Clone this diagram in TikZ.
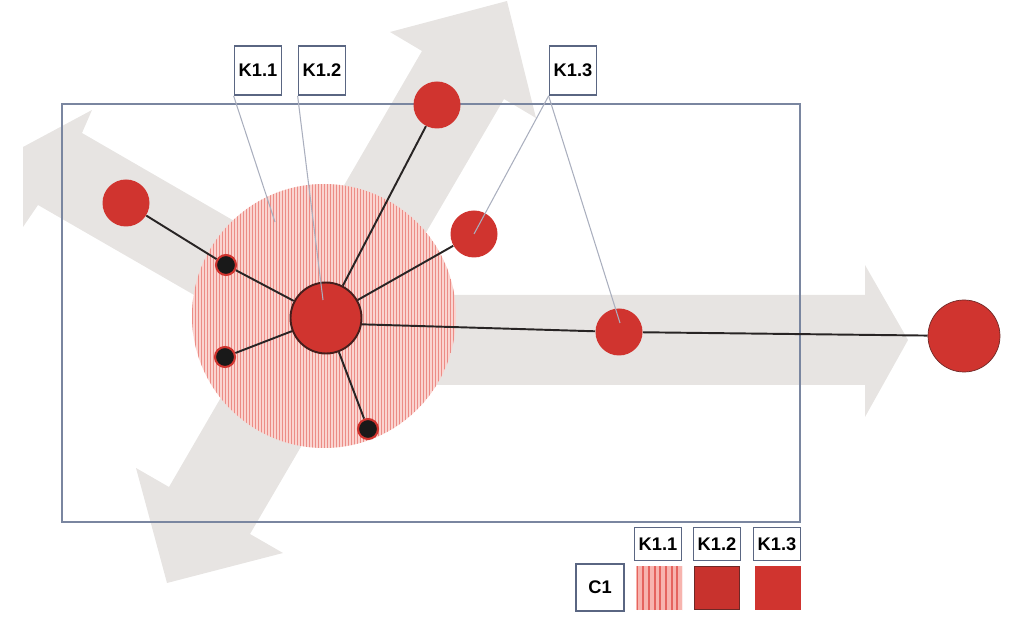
\documentclass[tikz,border=0pt]{standalone}
\usepackage{fontspec}
\setmainfont{Liberation Sans}
\usetikzlibrary{calc}
\definecolor{framecol}{RGB}{122,134,160}
\definecolor{tagline}{RGB}{90,102,130}
\definecolor{arrowgray}{RGB}{231,228,226}
\definecolor{nodered}{RGB}{208,52,47}
\definecolor{hubline}{RGB}{70,30,28}
\definecolor{linkcol}{RGB}{40,36,36}
\definecolor{leadcol}{RGB}{170,175,190}
\definecolor{zonepink}{RGB}{250,212,208}
\definecolor{zoneline}{RGB}{236,140,134}
\definecolor{swatchpink}{RGB}{247,180,174}
\definecolor{swatchline}{RGB}{229,100,94}
\definecolor{swatchdark}{RGB}{110,40,38}
\pgfdeclarelayer{back}
\pgfdeclarelayer{mid}
\pgfsetlayers{back,mid,main}

\begin{document}
\begin{tikzpicture}[x=0.2mm, y=-0.2mm,
  tag/.style={draw=tagline, line width=1pt, fill=white, font=\fontsize{10.4}{11}\selectfont\bfseries, inner sep=0, minimum width=9.4mm, minimum height=9.8mm},
  legtag/.style={tag, minimum width=9.4mm, minimum height=6.6mm},
  zone/.style={circle, fill=zonepink, inner sep=0, minimum size=52.8mm,
    path picture={\foreach \i in {0,...,88} \draw[zoneline, line width=0.5pt] ([xshift=\i*0.6mm]path picture bounding box.south west) -- ([xshift=\i*0.6mm]path picture bounding box.north west);}},
  rednode/.style={circle, fill=nodered, inner sep=0, minimum size=9.4mm},
  blackdot/.style={circle, fill=black!90, draw=nodered, line width=1.2pt, inner sep=0, minimum size=4.0mm},
  link/.style={draw=linkcol, line width=1.1pt},
  leader/.style={draw=leadcol, line width=0.6pt},
  flow/.style={fill=arrowgray}
]
\useasboundingbox (0,0) rectangle (1024,626);

\begin{pgfonlayer}{back}
\fill[flow] (92,110) -- (23,147) -- (23,227) -- (38,205) -- (300,356) -- (300,259) -- (82,133) -- cycle;
\fill[flow] (507,1) -- (536,118) -- (504,99) -- (250,534) -- (283,553) -- (167,583) -- (136,468) -- (169,487) -- (422,51) -- (390,32) -- cycle;
\fill[flow] (330,295) -- (865,295) -- (865,265) -- (908,340) -- (865,417) -- (865,385) -- (330,385) -- cycle;
\draw[framecol, line width=1.2pt] (62,104) rectangle (800,522);
\node[zone] (zone) at (324,316) {};
\end{pgfonlayer}

% nodes
\node[rednode, minimum size=14.2mm, draw=hubline, line width=1.1pt] (hub) at (326,318) {};
\node[rednode] (nleft) at (126,203) {};
\node[rednode] (ntop) at (437,105) {};
\node[rednode] (nmid) at (474,234) {};
\node[rednode] (nright) at (619,332) {};
\node[rednode, minimum size=14.4mm, draw=swatchdark, line width=0.4pt] (nfar) at (964,336) {};
\node[blackdot] (d1) at (226,265) {};
\node[blackdot] (d2) at (225,357) {};
\node[blackdot] (d3) at (368,429) {};

\begin{pgfonlayer}{mid}
\draw[link] (nleft) -- (d1) -- (hub);
\draw[link] (hub) -- (ntop);
\draw[link] (hub) -- (nmid);
\draw[link] (hub) -- (d2);
\draw[link] (hub) -- (d3);
\draw[link] (hub.-10) -- (nright) -- (nfar);
\end{pgfonlayer}

% labels
\node[tag] (k11) at (258,70.5) {K1.1};
\node[tag] (k12) at (322,70.5) {K1.2};
\node[tag] (k13) at (573,70.5) {K1.3};
\coordinate (k11end) at (275,222);
\coordinate (k12end) at (323,300);
\coordinate (k13end) at (620,323);
\draw[leader] (k11.south west) -- (k11end);
\draw[leader] (k12.south west) -- (k12end);
\draw[leader] (k13.south west) -- (nmid.center);
\draw[leader] (k13.south west) -- (k13end);

% legend
\node[legtag] (lk11) at (658,544) {K1.1};
\node[legtag] (lk12) at (717,544) {K1.2};
\node[legtag] (lk13) at (777,544) {K1.3};
\node[tag, minimum width=9.6mm, minimum height=9.4mm] (c1) at (600,587.5) {C1};
\node[inner sep=0, minimum width=9.2mm, minimum height=8.8mm, fill=swatchpink,
  path picture={\foreach \i in {0,...,8} \draw[swatchline, line width=1.1pt] ([xshift=\i*1.14mm+0.3mm]path picture bounding box.south west) -- ([xshift=\i*1.14mm+0.3mm]path picture bounding box.north west);}]
  (s11) at (659,588) {};
\node[inner sep=0, minimum width=9.0mm, minimum height=8.6mm, fill=nodered!96!black, draw=swatchdark, line width=1pt] (s12) at (717,588) {};
\node[inner sep=0, minimum width=9.2mm, minimum height=8.8mm, fill=nodered] (s13) at (778,588) {};
\end{tikzpicture}
\end{document}
